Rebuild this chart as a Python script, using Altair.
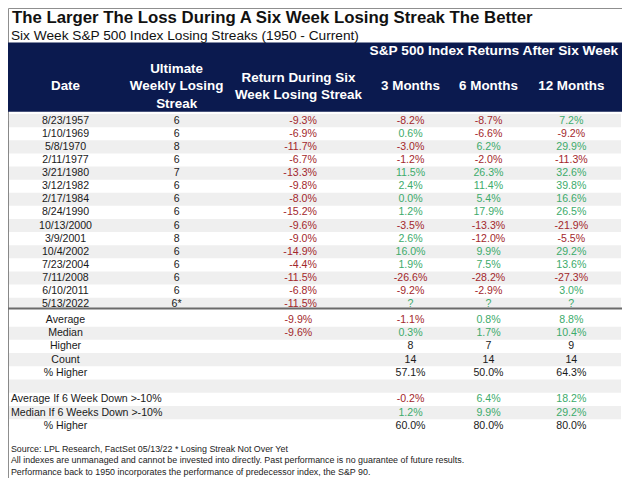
import altair as alt
import pandas as pd

# ---------------- data ----------------
title_text = "The Larger The Loss During A Six Week Losing Streak The Better"
subtitle_text = "Six Week S&P 500 Index Losing Streaks (1950 - Current)"
group_header = "S&P 500 Index Returns After Six Week"
col_headers = ["Date", "Ultimate\nWeekly Losing\nStreak", "Return During Six\nWeek Losing Streak",
               "3 Months", "6 Months", "12 Months"]

dates = ["8/23/1957", "1/10/1969", "5/8/1970", "2/11/1977", "3/21/1980", "3/12/1982", "2/17/1984",
         "8/24/1990", "10/13/2000", "3/9/2001", "10/4/2002", "7/23/2004", "7/11/2008", "6/10/2011",
         "5/13/2022"]
streaks = ["6", "6", "8", "6", "7", "6", "6", "6", "6", "8", "6", "6", "6", "6", "6*"]
ret_during = [-9.3, -6.9, -11.7, -6.7, -13.3, -9.8, -8.0, -15.2, -9.6, -9.0, -14.9, -4.4, -11.5, -6.8, -11.5]
ret_3m = [-8.2, 0.6, -3.0, -1.2, 11.5, 2.4, 0.0, 1.2, -3.5, 2.6, 16.0, 1.9, -26.6, -9.2, None]
ret_6m = [-8.7, -6.6, 6.2, -2.0, 26.3, 11.4, 5.4, 17.9, -13.3, -12.0, 9.9, 7.5, -28.2, -2.9, None]
ret_12m = [7.2, -9.2, 29.9, -11.3, 32.6, 39.8, 16.6, 26.5, -21.9, -5.5, 29.2, 13.6, -27.3, 3.0, None]

summary_labels = ["Average", "Median", "Higher", "Count", "% Higher", "",
                  "Average If 6 Week Down >-10%", "Median If 6 Weeks Down >-10%", "% Higher"]
avg_during = -9.9
median_during = -9.6
avg_after = [-1.1, 0.8, 8.8]
median_after = [0.3, 1.7, 10.4]
higher_after = [8, 7, 9]
count_after = [14, 14, 14]
pct_higher_after = [57.1, 50.0, 64.3]
avg_if = [-0.2, 6.4, 18.2]
median_if = [1.2, 9.9, 29.2]
pct_higher_if = [60.0, 80.0, 80.0]

footnotes = [
    "Source: LPL Research, FactSet 05/13/22 * Losing Streak Not Over Yet",
    "All indexes are unmanaged and cannot be invested into directly. Past performance is no guarantee of future results.",
    "Performance back to 1950 incorporates the performance of predecessor index, the S&P 90.",
]

# ---------------- layout / style ----------------
W, H = 614, 470
KX = W / 630
Y0 = 4.0
KY = H / (486 - Y0)


def sx(v):
    return v * KX


def sy(v):
    return (v - Y0) * KY


NAVY = "#0b1a4f"
RED = "#a3282c"
GREEN = "#3dab6b"
BLACK = "#1a1a1a"
STRIPE = "#efefef"
FONT = "Liberation Sans"
COL_X = [59, 173, 298, 413, 493, 578]

xscale = alt.Scale(domain=list(range(len(COL_X))), range=[sx(v) for v in COL_X],
                   zero=False, nice=False)
yscale = alt.Scale(domain=[0, 14, 15, 23],
                   range=[sy(119.5), sy(307.8), sy(324), sy(432.5)],
                   zero=False, nice=False)


def pct(v):
    return "?" if v is None else f"{v:.1f}%"


def signcol(v):
    return GREEN if (v is None or v >= 0) else RED


rows = []
for i in range(len(dates)):
    rows.append(dict(row=i, col=0, text=dates[i], color=BLACK, kind="center"))
    rows.append(dict(row=i, col=1, text=streaks[i], color=BLACK, kind="center"))
    rows.append(dict(row=i, col=2, text=pct(ret_during[i]), color=signcol(ret_during[i]), kind="right"))
    for c, arr in zip([3, 4, 5], [ret_3m, ret_6m, ret_12m]):
        rows.append(dict(row=i, col=c, text=pct(arr[i]), color=signcol(arr[i]), kind="center"))

base = len(dates)
for j, lab in enumerate(summary_labels):
    if lab:
        rows.append(dict(row=base + j, col=0, text=lab, color=BLACK,
                         kind="left" if len(lab) > 12 else "center"))
rows.append(dict(row=base, col=2, text=pct(avg_during), color=signcol(avg_during), kind="center"))
rows.append(dict(row=base + 1, col=2, text=pct(median_during), color=signcol(median_during), kind="center"))
for k, c in enumerate([3, 4, 5]):
    rows.append(dict(row=base, col=c, text=pct(avg_after[k]), color=signcol(avg_after[k]), kind="center"))
    rows.append(dict(row=base + 1, col=c, text=pct(median_after[k]), color=signcol(median_after[k]), kind="center"))
    rows.append(dict(row=base + 2, col=c, text=str(higher_after[k]), color=BLACK, kind="center"))
    rows.append(dict(row=base + 3, col=c, text=str(count_after[k]), color=BLACK, kind="center"))
    rows.append(dict(row=base + 4, col=c, text=pct(pct_higher_after[k]), color=BLACK, kind="center"))
    rows.append(dict(row=base + 6, col=c, text=pct(avg_if[k]), color=signcol(avg_if[k]), kind="center"))
    rows.append(dict(row=base + 7, col=c, text=pct(median_if[k]), color=signcol(median_if[k]), kind="center"))
    rows.append(dict(row=base + 8, col=c, text=pct(pct_higher_if[k]), color=BLACK, kind="center"))
cells = pd.DataFrame(rows)

n_rows = base + len(summary_labels)
stripes = pd.DataFrame({"row": [r for r in range(n_rows) if r % 2 == 0]})

# ---------------- layers ----------------
stripe_layer = alt.Chart(stripes).transform_calculate(
    lo="datum.row - 0.5",
    hi="datum.row == 14 ? 14.27 : datum.row + 0.5",
).mark_rect(color=STRIPE, aria=False).encode(
    x=alt.value(1), x2=alt.value(W - 1),
    y=alt.Y("lo:Q", scale=yscale, axis=None), y2="hi:Q",
)

one = pd.DataFrame({"k": [0]})
navy_layer = alt.Chart(one).mark_rect(color=NAVY, aria=False).encode(
    x=alt.value(0), x2=alt.value(W), y=alt.value(sy(39.5)), y2=alt.value(sy(110.5))
)

sep_layer = alt.Chart(one).mark_rule(color="#6b6b6b", strokeWidth=2, aria=False).encode(
    x=alt.value(0), x2=alt.value(W), y=alt.datum(14.27, type="quantitative", scale=yscale)
)

title_layer = alt.Chart(pd.DataFrame({"t": [title_text]})).mark_text(
    align="left", baseline="middle", font=FONT, fontWeight="bold", fontSize=16.8, color="#111111"
).encode(x=alt.value(sx(4)), y=alt.value(sy(14)), text="t:N")

subtitle_layer = alt.Chart(pd.DataFrame({"t": [subtitle_text]})).mark_text(
    align="left", baseline="middle", font=FONT, fontSize=13.7, color="#111111"
).encode(x=alt.value(sx(3)), y=alt.value(sy(32.5)), text="t:N")

group_layer = alt.Chart(pd.DataFrame({"t": [group_header]})).mark_text(
    align="right", baseline="middle", font=FONT, fontWeight="bold", fontSize=13.7, color="white"
).encode(x=alt.value(sx(626)), y=alt.value(sy(48.5)), text="t:N")

hdr = pd.DataFrame({"col": list(range(len(col_headers))), "t": col_headers,
                    "nlines": [h.count("\n") + 1 for h in col_headers]})
header_layer = alt.Chart(hdr).mark_text(
    align="center", baseline="middle", font=FONT, fontWeight="bold", fontSize=13.4,
    color="white", lineBreak="\n", lineHeight=sy(18) - sy(0)
).encode(
    x=alt.X("col:Q", scale=xscale, axis=None),
    y=alt.Y("nlines:Q", scale=alt.Scale(domain=[1, 3], range=[sy(84.5), sy(66.5)], zero=False, nice=False),
            axis=None),
    text="t:N",
)

enc = dict(
    y=alt.Y("row:Q", scale=yscale, axis=None),
    text="text:N",
    color=alt.Color("color:N", scale=None),
)
center_layer = alt.Chart(cells).transform_filter("datum.kind == 'center'").mark_text(
    align="center", baseline="middle", font=FONT, fontSize=10.6
).encode(x=alt.X("col:Q", scale=xscale, axis=None), **enc)

right_layer = alt.Chart(cells).transform_filter("datum.kind == 'right'").mark_text(
    align="right", baseline="middle", font=FONT, fontSize=10.6, dx=sx(19)
).encode(x=alt.X("col:Q", scale=xscale, axis=None), **enc)

left_layer = alt.Chart(cells).transform_filter("datum.kind == 'left'").mark_text(
    align="left", baseline="middle", font=FONT, fontSize=10.6
).encode(x=alt.value(sx(3)), **enc)

foot_df = pd.DataFrame({"t": footnotes, "line": list(range(len(footnotes)))})
foot_layer = alt.Chart(foot_df).mark_text(
    align="left", baseline="middle", font=FONT, fontSize=8.9, color="#222222"
).encode(
    x=alt.value(sx(3)),
    y=alt.Y("line:Q", scale=alt.Scale(domain=[0, 2], range=[sy(456), sy(480)], zero=False, nice=False),
            axis=None),
    text="t:N",
)

chart = alt.layer(
    stripe_layer, navy_layer, sep_layer, title_layer, subtitle_layer, group_layer,
    header_layer, center_layer, right_layer, left_layer, foot_layer
).resolve_scale(y="independent").properties(
    width=W, height=H, autosize=alt.AutoSizeParams(type="none"), padding=0, background="white"
).configure_view(stroke="#8f8f8f", strokeWidth=1)

chart.save("out.html", embed_options={"renderer": "svg", "actions": False})
